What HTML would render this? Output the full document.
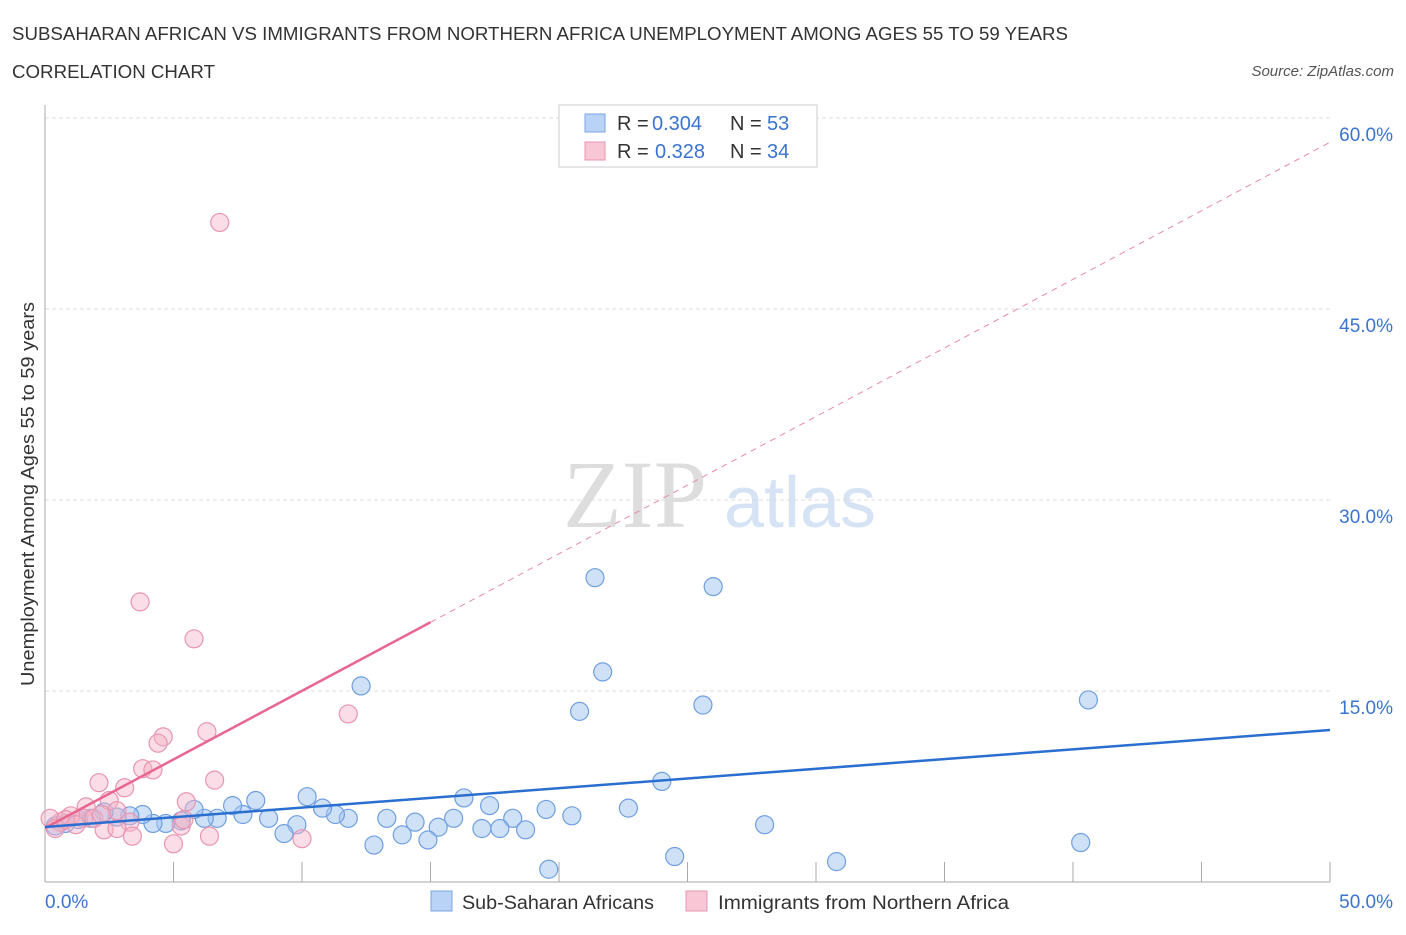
<!DOCTYPE html>
<html><head><meta charset="utf-8"><style>
body{margin:0;background:#fff;font-family:"Liberation Sans",sans-serif;}
svg text{font-family:"Liberation Sans",sans-serif;}
</style></head><body>
<svg width="1406" height="930" xmlns="http://www.w3.org/2000/svg">
<text x="12" y="40" font-size="18" fill="#333" textLength="1056" lengthAdjust="spacingAndGlyphs">SUBSAHARAN AFRICAN VS IMMIGRANTS FROM NORTHERN AFRICA UNEMPLOYMENT AMONG AGES 55 TO 59 YEARS</text>
<text x="12" y="78" font-size="18" fill="#333" textLength="203" lengthAdjust="spacingAndGlyphs">CORRELATION CHART</text>
<text x="1394" y="76" font-size="15" fill="#555" font-style="italic" text-anchor="end">Source: ZipAtlas.com</text>
<g>
<text x="635" y="527" font-size="96" fill="#ddd" text-anchor="middle" style="font-family:'Liberation Serif',serif">ZIP</text>
<text x="800" y="527" font-size="72" fill="#d6e3f5" text-anchor="middle">atlas</text>
</g>
<g id="grid"></g>
<g id="axes"></g>
<g id="marks"></g>
<text transform="translate(34,494) rotate(-90)" font-size="18" fill="#333" text-anchor="middle" textLength="384" lengthAdjust="spacingAndGlyphs">Unemployment Among Ages 55 to 59 years</text>
<g>
<rect x="559" y="105" width="258" height="62" fill="#fff" stroke="#ccc"/>
<rect x="585" y="114" width="20" height="18" fill="#b8d3f5" stroke="#7aa6e0"/>
<text x="617" y="130" font-size="20" fill="#333">R =</text>
<text x="652" y="130" font-size="20" fill="#3a74d0">0.304</text>
<text x="730" y="130" font-size="20" fill="#333">N =</text>
<text x="767" y="130" font-size="20" fill="#3a74d0">53</text>
<rect x="585" y="142" width="20" height="18" fill="#f8c6d5" stroke="#e895b0"/>
<text x="617" y="158" font-size="20" fill="#333">R =</text>
<text x="655" y="158" font-size="20" fill="#3a74d0">0.328</text>
<text x="730" y="158" font-size="20" fill="#333">N =</text>
<text x="767" y="158" font-size="20" fill="#3a74d0">34</text>
</g>
<g>
<rect x="431" y="891" width="21" height="20" fill="#b8d3f5" stroke="#7aa6e0"/>
<text x="462" y="909" font-size="19" fill="#333" textLength="192" lengthAdjust="spacingAndGlyphs">Sub-Saharan Africans</text>
<rect x="686" y="891" width="21" height="20" fill="#f8c6d5" stroke="#e895b0"/>
<text x="718" y="909" font-size="19" fill="#333" textLength="291" lengthAdjust="spacingAndGlyphs">Immigrants from Northern Africa</text>
</g>
</svg>
<script>
const blueX=[21.4,26.0,21.7,20.8,25.6,40.6,12.3,24.0,22.7,20.5,19.5,16.3,17.3,18.2,18.7,17.0,17.7,15.9,15.3,14.9,14.4,13.9,13.3,12.8,11.8,11.3,10.8,10.2,9.8,9.3,8.7,8.2,7.7,7.3,6.7,6.2,5.8,5.3,4.7,4.2,3.8,3.3,2.8,2.3,1.8,1.3,0.8,0.4,19.6,24.5,30.8,28.0,40.3];
const blueY=[23.9,23.2,16.5,13.4,13.9,14.3,15.4,7.9,5.8,5.2,5.7,6.6,6.0,5.0,4.1,4.2,4.2,5.0,4.3,3.3,4.7,3.7,5.0,2.9,5.0,5.3,5.8,6.7,4.5,3.8,5.0,6.4,5.3,6.0,5.0,5.0,5.7,4.8,4.6,4.6,5.3,5.2,5.1,5.5,5.0,4.9,4.6,4.4,1.0,2.0,1.6,4.5,3.1];
const pinkX=[6.8,3.7,5.8,11.8,6.3,4.6,4.4,3.8,4.2,2.1,3.1,6.6,5.5,2.5,1.6,2.8,3.3,5.3,2.3,2.8,3.4,5.0,6.4,10.0,1.5,1.0,0.6,0.2,0.4,1.9,0.8,1.2,5.4,2.2];
const pinkY=[51.8,22.0,19.1,13.2,11.8,11.4,10.9,8.9,8.8,7.8,7.4,8.0,6.3,6.4,5.9,5.6,4.7,4.4,4.1,4.2,3.6,3.0,3.6,3.4,5.0,5.2,4.7,5.0,4.2,5.0,4.9,4.5,4.9,5.3];
const blueTrend=[4.32,11.94];
const pinkTrend=[4.24,58.1];
const yTicks=[15,30,45,60];
const yTickLabels=["15.0%","30.0%","45.0%","60.0%"];
const xTicks=[0,5,10,15,20,25,30,35,40,45,50];
const NS="http://www.w3.org/2000/svg";
const X=v=>45+v*25.7, Y=v=>882-v*12.733;
function mk(p,t,a){const e=document.createElementNS(NS,t);for(const k in a)e.setAttribute(k,a[k]);document.getElementById(p).appendChild(e);return e;}
yTicks.forEach((t,i)=>{
 const g=mk('grid','line',{x1:45,x2:1330,y1:Y(t),y2:Y(t),stroke:'#ddd','stroke-dasharray':'4,3'});
 
 
 const l=mk('grid','text',{x:1393,y:Y(t)+23,'font-size':19,fill:'#3a74d0','text-anchor':'end'});
 l.textContent=yTickLabels[i];
 
 
});
const ax=mk('axes','line',{x1:45,x2:45,y1:105,y2:882,stroke:'#aaa'});


const bx=mk('axes','line',{x1:45,x2:1330,y1:882,y2:882,stroke:'#aaa'});


xTicks.forEach(t=>{const e=mk('axes','line',{x1:X(t),x2:X(t),y1:862,y2:882,stroke:'#aaa'});
 
 });
const x0=mk('axes','text',{x:45,y:908,'font-size':19,fill:'#3a74d0'});x0.textContent='0.0%';


const x1=mk('axes','text',{x:1393,y:908,'font-size':19,fill:'#3a74d0','text-anchor':'end'});x1.textContent='50.0%';


blueX.forEach((v,i)=>{const c=mk('marks','circle',{cx:X(v),cy:Y(blueY[i]),r:9,fill:'rgba(160,195,240,0.5)',stroke:'#6f9fe0','stroke-width':1.2});
 
 });
pinkX.forEach((v,i)=>{const c=mk('marks','circle',{cx:X(v),cy:Y(pinkY[i]),r:9,fill:'rgba(245,180,200,0.45)',stroke:'#e995b0','stroke-width':1.2});
 
 });
const pm=15, pyAt=x=>pinkTrend[0]+(pinkTrend[1]-pinkTrend[0])*x/50;
const pd=mk('marks','line',{x1:X(pm),y1:Y(pyAt(pm)),x2:X(50),y2:Y(pinkTrend[1]),stroke:'#e98aa8','stroke-width':1,'stroke-dasharray':'6,5'});


const ps=mk('marks','line',{x1:X(0),y1:Y(pinkTrend[0]),x2:X(pm),y2:Y(pyAt(pm)),stroke:'#e86690','stroke-width':2.5});


const bl=mk('marks','line',{x1:X(0),y1:Y(blueTrend[0]),x2:X(50),y2:Y(blueTrend[1]),stroke:'#2a6fd0','stroke-width':2.5});


</script>
</body></html>
